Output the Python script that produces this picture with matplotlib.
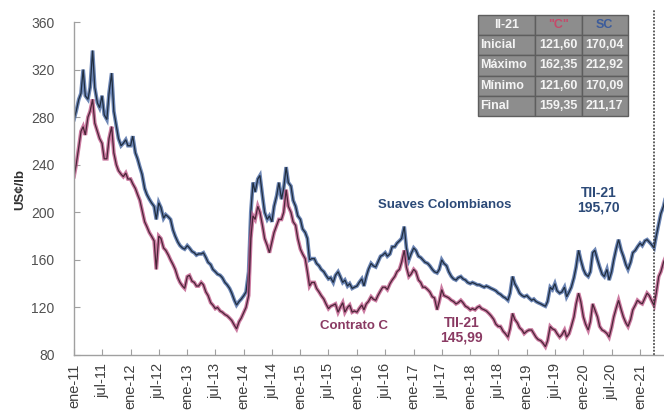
import matplotlib
matplotlib.use("Agg")
import matplotlib.pyplot as plt
import matplotlib.dates as mdates
import matplotlib.patheffects as pe
import pandas as pd

plt.rcParams["font.family"] = ["Liberation Sans", "DejaVu Sans"]

# Semi-monthly quotes (1st and 15th of each month), Jan-2011 .. Jun-2021,
# followed by the closing quote of 30-Jun-2021.  US cents per pound.
sc_prices = [
    # 2011
    278, 285, 295, 300, 320, 298, 295, 305, 336, 305, 292, 288,
    298, 282, 278, 300, 317, 285, 273, 262, 256, 258, 261, 256,
    # 2012
    256, 264, 250, 245, 238, 232, 220, 215, 211, 208, 205, 194,
    208, 204, 195, 198, 196, 194, 185, 180, 175, 172, 170, 169,
    # 2013
    172, 170, 167, 166, 164, 165, 165, 166, 162, 158, 156, 152,
    150, 148, 147, 145, 141, 139, 136, 132, 126, 122, 125, 127,
    # 2014
    130, 133, 150, 200, 225, 217, 228, 231, 214, 200, 194, 197,
    192, 205, 214, 225, 211, 220, 238, 225, 222, 210, 205, 197,
    # 2015
    194, 186, 183, 178, 160, 161, 161, 157, 155, 152, 150, 147,
    144, 145, 141, 147, 150, 146, 141, 143, 138, 140, 136, 137,
    # 2016
    138, 141, 144, 138, 146, 152, 157, 155, 154, 158, 163, 164,
    166, 163, 165, 171, 171, 174, 176, 178, 188, 170, 160, 165,
    # 2017
    170, 168, 163, 162, 160, 158, 157, 155, 152, 150, 149, 152,
    160, 157, 155, 150, 146, 144, 143, 145, 146, 144, 143, 141,
    # 2018
    140, 141, 140, 139, 139, 138, 137, 138, 137, 136, 135, 134,
    132, 131, 129, 128, 126, 132, 146, 140, 136, 132, 130, 129,
    # 2019
    130, 128, 126, 127, 125, 124, 123, 122, 121, 125, 137, 135,
    140, 134, 132, 133, 137, 129, 133, 137, 145, 154, 168, 160,
    # 2020
    152, 148, 146, 150, 166, 168, 160, 154, 148, 146, 152, 143,
    150, 160, 170, 177, 168, 163, 156, 152, 158, 166, 168, 171,
    # 2021
    174, 172, 176, 177, 175, 173, 170.04, 180, 190, 199, 205, 212.92,
    211.17,
]

c_prices = [
    # 2011
    230, 240, 255, 268, 272, 265, 280, 285, 295, 275, 268, 262,
    258, 245, 245, 262, 272, 250, 240, 235, 232, 230, 233, 228,
    # 2012
    228, 224, 220, 215, 210, 202, 192, 188, 183, 180, 176, 152,
    180, 178, 170, 168, 164, 160, 156, 152, 145, 141, 138, 136,
    # 2013
    146, 147, 142, 141, 138, 138, 141, 139, 133, 130, 124, 122,
    119, 120, 117, 116, 114, 113, 111, 109, 105, 102, 108, 111,
    # 2014
    116, 120, 130, 178, 197, 194, 205, 200, 189, 178, 172, 166,
    175, 183, 189, 194, 194, 200, 219, 205, 200, 192, 189, 178,
    # 2015
    169, 165, 161, 150, 138, 141, 141, 136, 133, 130, 127, 123,
    119, 121, 122, 123, 116, 120, 124, 116, 120, 122, 116, 117,
    # 2016
    116, 119, 122, 118, 123, 125, 129, 127, 126, 130, 134, 137,
    137, 135, 140, 143, 146, 150, 152, 158, 168, 154, 146, 148,
    # 2017
    152, 150, 143, 141, 137, 137, 135, 133, 129, 128, 118, 125,
    135, 130, 129, 128, 126, 125, 123, 124, 126, 124, 121, 120,
    # 2018
    118, 119, 118, 120, 121, 119, 118, 117, 115, 113, 110, 106,
    104, 104, 100, 98, 95, 102, 115, 110, 107, 103, 101, 98,
    # 2019
    100, 101, 101, 98, 95, 93, 92, 90, 87, 92, 104, 102,
    101, 98, 95, 97, 101, 95, 98, 104, 112, 123, 132, 125,
    # 2020
    112, 106, 101, 108, 123, 118, 112, 104, 101, 100, 98, 95,
    103, 112, 120, 126, 118, 112, 107, 104, 110, 118, 122, 126,
    # 2021
    124, 123, 128, 132, 130, 126, 121.60, 132, 146, 150, 158, 162.35,
    159.35,
]

quote_dates = list(pd.date_range("2011-01-01", "2021-06-15", freq="SMS")) + [
    pd.Timestamp("2021-06-30")
]

tick_dates = pd.date_range("2011-01-01", "2021-01-01", freq="6MS")
tick_labels = [
    "ene-11", "jul-11", "ene-12", "jul-12", "ene-13", "jul-13", "ene-14",
    "jul-14", "ene-15", "jul-15", "ene-16", "jul-16", "ene-17", "jul-17",
    "ene-18", "jul-18", "ene-19", "jul-19", "ene-20", "jul-20", "ene-21",
]

quarter_start = pd.Timestamp("2021-04-01")

table_header = ["II-21", '"C"', "SC"]
table_rows = ["Inicial", "Máximo", "Mínimo", "Final"]
table_c = ["121,60", "162,35", "121,60", "159,35"]
table_sc = ["170,04", "212,92", "170,09", "211,17"]

SC_EDGE, SC_CORE = "#4868a3", "#1f2d3f"
C_EDGE, C_CORE = "#bf5a8a", "#4b2538"
SC_TEXT, C_TEXT = "#2c4a78", "#8a3a63"
AXIS_GRAY = "#a0a0a0"

fig = plt.figure(figsize=(6.64, 4.13), dpi=100)
ax = fig.add_axes([74 / 664, 58 / 413, 594 / 664, 333 / 413])

for values, edge, core in ((sc_prices, SC_EDGE, SC_CORE), (c_prices, C_EDGE, C_CORE)):
    ax.plot(
        quote_dates, values, color=core, lw=0.9, solid_joinstyle="miter",
        path_effects=[pe.Stroke(linewidth=2.7, foreground=edge, alpha=0.8), pe.Normal()],
    )

ax.axvline(quarter_start, ymin=0, ymax=1.04, color="#333333", ls=(0, (1.2, 1.0)),
           lw=1.1, clip_on=False)

ax.set_xlim(pd.Timestamp("2011-01-01"), pd.Timestamp("2021-06-30"))
ax.set_ylim(80, 360)
ax.set_yticks(range(80, 361, 40))
ax.set_xticks(tick_dates)
ax.set_xticklabels(tick_labels, rotation=90, fontsize=10.5, color="#404040")
ax.tick_params(axis="y", direction="in", length=4, color=AXIS_GRAY,
               labelsize=10, labelcolor="#505050", pad=14)
ax.tick_params(axis="x", direction="in", length=4, color=AXIS_GRAY, pad=6)
for side in ("top", "right"):
    ax.spines[side].set_visible(False)
for side in ("left", "bottom"):
    ax.spines[side].set_color(AXIS_GRAY)
    ax.spines[side].set_linewidth(1.0)

fig.text(20 / 664, 1 - 190 / 413, "US¢/lb", rotation=90, ha="center", va="center",
         fontsize=9.5, fontweight="bold", color="#303030")

ax.text(pd.Timestamp("2017-07-20"), 206, "Suaves Colombianos", ha="center",
        va="center", fontsize=9.5, fontweight="bold", color=SC_TEXT)
ax.text(pd.Timestamp("2020-04-10"), 210, "TII-21\n195,70", ha="center",
        va="center", fontsize=10, fontweight="bold", color=SC_TEXT, linespacing=1.05)
ax.text(pd.Timestamp("2015-12-12"), 104.5, "Contrato C", ha="center",
        va="center", fontsize=9.5, fontweight="bold", color=C_TEXT)
ax.text(pd.Timestamp("2017-11-07"), 101, "TII-21\n145,99", ha="center",
        va="center", fontsize=10, fontweight="bold", color=C_TEXT, linespacing=1.05)

# Summary table for the quarter
tax = fig.add_axes([478 / 664, 1 - 116 / 413, 150 / 664, 101 / 413])
tax.axis("off")
cell_text = [table_header] + [[r, c, s] for r, c, s in zip(table_rows, table_c, table_sc)]
tbl = tax.table(cellText=cell_text, bbox=[0, 0, 1, 1], colWidths=[0.38, 0.31, 0.31],
                cellLoc="center")
tbl.auto_set_font_size(False)
for (r, col), cell in tbl.get_celld().items():
    cell.set_facecolor("#8d8d8d")
    cell.set_edgecolor("#5e5e5e")
    cell.set_linewidth(1.0)
    txt = cell.get_text()
    txt.set_fontsize(9)
    txt.set_fontweight("bold")
    txt.set_color("#f4f4f4")
    if col == 0 and r > 0:
        txt.set_ha("left")
        cell.PAD = 0.04
tbl[0, 1].get_text().set_color("#c44a6a")
tbl[0, 2].get_text().set_color("#3c5c9c")

fig.savefig("out.png", dpi=100)
